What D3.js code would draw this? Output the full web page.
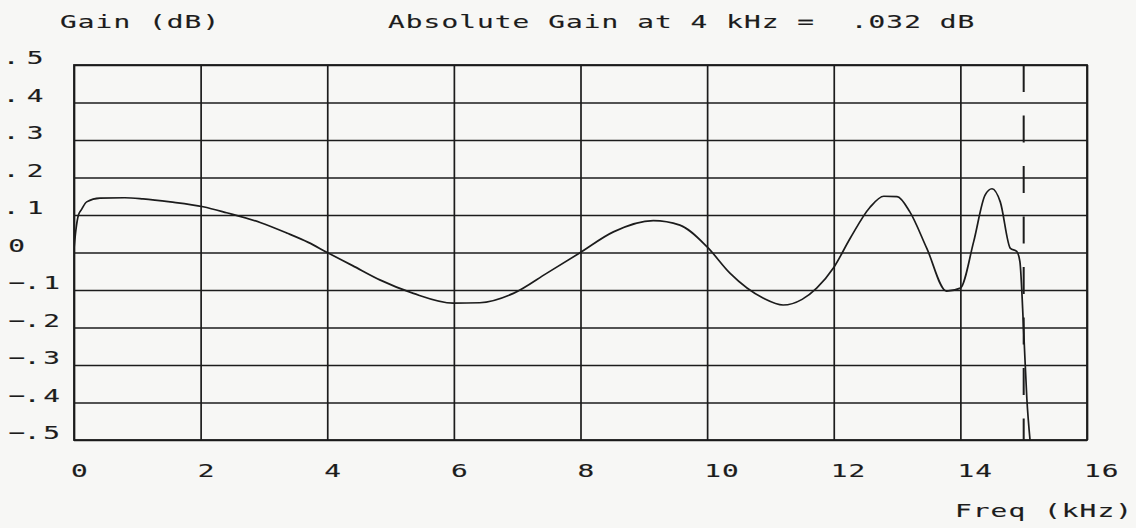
<!DOCTYPE html>
<html>
<head>
<meta charset="utf-8">
<script src="https://cdn.jsdelivr.net/npm/d3@7/dist/d3.min.js"></script>
<style>
  html, body { margin: 0; padding: 0; background: #f7f7f5; }
  svg { display: block; }
</style>
</head>
<body>
<svg id="chart" width="1136" height="528"></svg>
<script>
// ---- data ----
const freq = [0, 0.03, 0.07, 0.12, 0.2, 0.41, 0.8, 1.09, 1.52, 2.04, 2.41, 2.94, 3.36, 3.7, 4.0, 4.4,
  4.83, 5.36, 5.99, 6.41, 6.94, 7.47, 7.98, 8.52, 9.15, 9.57, 10.0, 10.36, 10.89, 11.2, 11.5,
  11.73, 12.0, 12.26, 12.57, 12.79, 13.0, 13.2, 13.47, 13.78, 14.0, 14.21, 14.39, 14.5, 14.63,
  14.79, 14.89, 14.94, 15.0, 15.05, 15.1];
const gain = [0.01, 0.06, 0.10, 0.115, 0.135, 0.145, 0.146, 0.143, 0.135, 0.122, 0.106, 0.08, 0.052, 0.027, 0.0, -0.035,
  -0.073, -0.109, -0.135, -0.134, -0.109, -0.055, -0.002, 0.055, 0.085, 0.073, 0.015, -0.055, -0.122, -0.14, -0.125,
  -0.095, -0.04, 0.038, 0.12, 0.15, 0.149, 0.109, 0.011, -0.103, -0.095, 0.029, 0.153, 0.17, 0.135,
  0.011, 0.003, -0.024, -0.21, -0.39, -0.5];
const xTicks = [0, 2, 4, 6, 8, 10, 12, 14, 16];
const xTickLabels = ["0", "2", "4", "6", "8", "10", "12", "14", "16"];
const yTicks = [0.5, 0.4, 0.3, 0.2, 0.1, 0, -0.1, -0.2, -0.3, -0.4, -0.5];
const yTickLabels = [".5", ".4", ".3", ".2", ".1", "0", "−.1", "−.2", "−.3", "−.4", "−.5"];
const cutoffFreq = 15;
const yTitle = "Gain (dB)";
const chartTitle = "Absolute Gain at 4 kHz =  .032 dB";
const xTitle = "Freq (kHz)";

// ---- layout ----
const svg = d3.select("#chart");
const L = 74, R = 1087, T = 65, B = 440;
const x = d3.scaleLinear().domain([0, 16]).range([L, R]);
const y = d3.scaleLinear().domain([-0.5, 0.5]).range([B, T]);
const ink = "#1c1c1c";

// monospace plotter-like text
const SX = 1.5, PITCH = 17.8, FS = 18.5;
const LS = (PITCH - 0.602 * FS * SX) / SX;
function mono(str, px, py, anchor, ls) {
  svg.append("text")
    .attr("transform", `translate(${px},${py}) scale(${SX},1)`)
    .attr("font-family", "'DejaVu Sans Mono', monospace")
    .attr("font-size", FS)
    .attr("letter-spacing", ls === undefined ? LS : ls)
    .attr("fill", ink)
    .attr("stroke", ink)
    .attr("stroke-width", 0.15)
    .attr("text-anchor", anchor || "start")
    .attr("xml:space", "preserve")
    .style("white-space", "pre")
    .text(str);
}

// grid via axes
const gx = svg.append("g").attr("transform", `translate(0,${B})`)
  .call(d3.axisBottom(x).tickValues(xTicks).tickSize(-(B - T)).tickFormat(""));
const gy = svg.append("g").attr("transform", `translate(${L},0)`)
  .call(d3.axisLeft(y).tickValues(yTicks).tickSize(-(R - L)).tickFormat(""));
[gx, gy].forEach(g => {
  g.select(".domain").remove();
  g.selectAll(".tick line").attr("stroke", ink).attr("stroke-width", 1.7);
});
svg.append("rect").attr("x", L).attr("y", T).attr("width", R - L).attr("height", B - T)
  .attr("fill", "none").attr("stroke", ink).attr("stroke-width", 1.8);

// dashed cutoff marker
svg.append("line")
  .attr("x1", x(cutoffFreq)).attr("x2", x(cutoffFreq))
  .attr("y1", y(0.5)).attr("y2", y(-0.5))
  .attr("stroke", ink).attr("stroke-width", 2)
  .attr("stroke-dasharray", "27 23.5");

// curve
svg.append("clipPath").attr("id", "plotclip").append("rect")
  .attr("x", L).attr("y", T - 1).attr("width", R - L).attr("height", B - T + 2);
const pts = freq.map((f, i) => [f, gain[i]]);
svg.append("path")
  .datum(pts)
  .attr("clip-path", "url(#plotclip)")
  .attr("fill", "none")
  .attr("stroke", ink)
  .attr("stroke-width", 1.7)
  .attr("stroke-linejoin", "round")
  .attr("d", d3.line().x(d => x(d[0])).y(d => y(d[1])).curve(d3.curveMonotoneX));

// x tick labels
xTicks.forEach((v, i) => mono(xTickLabels[i], x(v) - 3, 477));

// y tick labels (character cells placed like the plotter output)
yTicks.forEach((v, i) => {
  const s = yTickLabels[i];
  const by = y(v) - 1;
  let cells;
  if (s === "0") cells = [[s, 16.5]];
  else if (s[0] === "−") cells = [["−", 16.5], [".", 32], [s.slice(2), 51.5]];
  else cells = [[".", 11], [s.slice(1), 35]];
  cells.forEach(([c, cx]) => mono(c, cx, by, "middle", 0));
});

// titles
mono(yTitle, 60, 28);
mono(chartTitle, 388, 28);
mono(xTitle, 955, 517);
</script>
</body>
</html>
